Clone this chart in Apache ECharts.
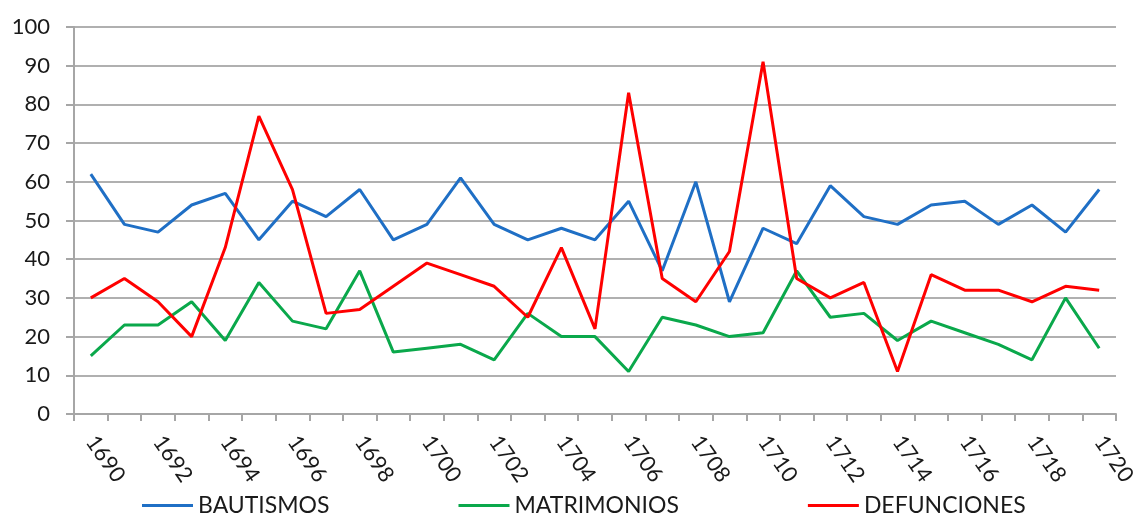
<!DOCTYPE html>
<html>
<head>
<meta charset="utf-8">
<script src="https://cdn.jsdelivr.net/npm/echarts@6/dist/echarts.min.js"></script>
<style>
html,body{margin:0;padding:0;background:#fff;}
#chart{width:1134px;height:516px;}
</style>
</head>
<body>
<div id="chart"></div>
<script>
const years = [];
for (let y = 1690; y <= 1720; y++) years.push(String(y));
const bautismos = [62,49,47,54,57,45,55,51,58,45,49,61,49,45,48,45,55,37,60,29,48,44,59,51,49,54,55,49,54,47,58];
const matrimonios = [15,23,23,29,19,34,24,22,37,16,17,18,14,26,20,20,11,25,23,20,21,37,25,26,19,24,21,18,14,30,17];
const defunciones = [30,35,29,20,43,77,58,26,27,33,39,36,33,25,43,22,83,35,29,42,91,35,30,34,11,36,32,32,29,33,32];

const chart = echarts.init(document.getElementById('chart'));
const font = 'Lato, "Noto Sans", sans-serif';
function line(name, data, color) {
  return {
    name, type: 'line', data, symbol: 'none', smooth: false,
    lineStyle: { color, width: 3 }, itemStyle: { color }
  };
}
chart.setOption({
  animation: false,
  textStyle: { fontFamily: font },
  grid: { left: 74, right: 18, top: 27, bottom: 102, outerBoundsMode: 'none', containLabel: false },
  legend: {
    top: 494, left: 142, padding: 0,
    icon: 'rect', itemWidth: 51, itemHeight: 3, itemGap: 129,
    textStyle: { fontSize: 23, color: '#1a1a1a', fontFamily: font },
    data: ['BAUTISMOS', 'MATRIMONIOS', 'DEFUNCIONES']
  },
  xAxis: {
    type: 'category', data: years, boundaryGap: true,
    axisLine: { lineStyle: { color: '#a6a6a6', width: 2 } },
    axisTick: { show: true, interval: 0, length: 7, lineStyle: { color: '#a6a6a6', width: 2 } },
    axisLabel: { interval: 1, rotate: -55, fontSize: 22, color: '#1a1a1a', margin: 24, fontFamily: font },
    splitLine: { show: false }
  },
  yAxis: {
    type: 'value', min: 0, max: 100, interval: 10,
    axisLine: { show: true, lineStyle: { color: '#a6a6a6', width: 2 } },
    axisTick: { show: true, length: 8, lineStyle: { color: '#a6a6a6', width: 2 } },
    axisLabel: { fontSize: 22, color: '#1a1a1a', margin: 24, fontFamily: font },
    splitLine: { show: true, lineStyle: { color: '#b0b0b0', width: 2 } }
  },
  series: [
    line('BAUTISMOS', bautismos, '#1f6fc5'),
    line('MATRIMONIOS', matrimonios, '#0aa84b'),
    line('DEFUNCIONES', defunciones, '#ff0000')
  ]
});
</script>
</body>
</html>
